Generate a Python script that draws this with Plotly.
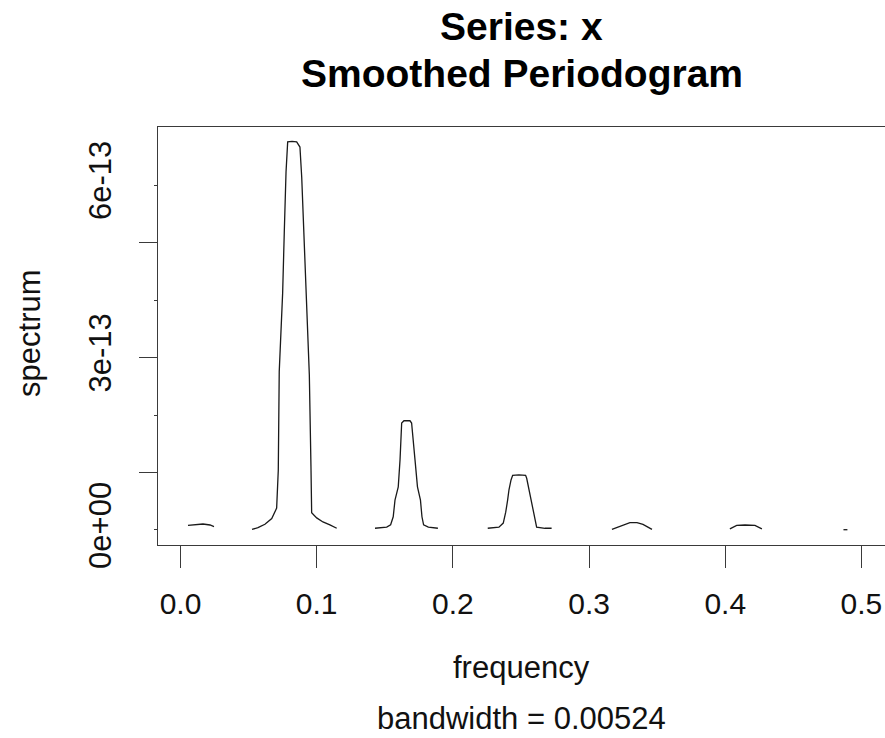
import plotly.graph_objects as go

# ---- data (spectrum in units of 1e-13) ----
frequency = [
    0.0055, 0.0106, 0.0165, 0.0217, 0.0246, None,
    0.0525, 0.0569, 0.0620, 0.0670, 0.0706, 0.0718, 0.0725, 0.0750, 0.0762, 0.0775, 0.0787,
    0.0819, 0.0853, 0.0877, 0.0890, 0.0907, 0.0927, 0.0946, 0.0958, 0.0963, 0.1000, 0.1046,
    0.1097, 0.1147, None,
    0.1428, 0.1514, 0.1543, 0.1562, 0.1575, 0.1599, 0.1612, 0.1624, 0.1641, 0.1663, 0.1685,
    0.1697, 0.1705, 0.1722, 0.1740, 0.1762, 0.1773, 0.1785, 0.1820, 0.1890, None,
    0.2256, 0.2338, 0.2370, 0.2388, 0.2402, 0.2412, 0.2427, 0.2439, 0.2485, 0.2534, 0.2542,
    0.2559, 0.2579, 0.2598, 0.2615, 0.2676, 0.2725, None,
    0.3168, 0.3212, 0.3256, 0.3300, 0.3352, 0.3396, 0.3432, 0.3462, None,
    0.4034, 0.4084, 0.4145, 0.4218, 0.4269, None,
    0.4868, 0.4897,
]
spectrum_e13 = [
    0.08, 0.096, 0.104, 0.087, 0.06, None,
    0.01, 0.04, 0.10, 0.20, 0.38, 1.04, 2.75, 4.12, 5.17, 6.23, 6.75,
    6.76, 6.75, 6.66, 6.14, 5.10, 4.03, 2.70, 1.10, 0.30, 0.21, 0.14,
    0.09, 0.03, None,
    0.03, 0.05, 0.09, 0.23, 0.52, 0.75, 1.22, 1.86, 1.90, 1.90, 1.90,
    1.86, 1.69, 1.22, 0.75, 0.52, 0.23, 0.09, 0.05, 0.03, None,
    0.03, 0.05, 0.12, 0.31, 0.52, 0.70, 0.87, 0.95, 0.96, 0.95, 0.90,
    0.70, 0.45, 0.23, 0.05, 0.03, 0.03, None,
    0.01, 0.05, 0.10, 0.127, 0.127, 0.096, 0.05, 0.01, None,
    0.02, 0.08, 0.087, 0.08, 0.02, None,
    0.005, 0.005,
]
spectrum = [None if v is None else v * 1e-13 for v in spectrum_e13]

x_tick_vals = [0.0, 0.1, 0.2, 0.3, 0.4, 0.5]
x_tick_text = ["0.0", "0.1", "0.2", "0.3", "0.4", "0.5"]
y_label_vals = [0, 2e-13, 3e-13, 4e-13, 6e-13]
y_label_text = ["0e+00", "", "3e-13", "", "6e-13"]
y_long_ticks = [1e-13, 3e-13, 5e-13]

title_line1 = "Series: x"
title_line2 = "Smoothed Periodogram"
x_title = "frequency"
x_subtitle = "bandwidth = 0.00524"
y_title = "spectrum"

FONT = "Liberation Sans, Arial, sans-serif"
AXC = "#3a3a3a"
x_range = [-0.01652, 0.5173]
y_range = [-0.261e-13, 7.009e-13]

fig = go.Figure()
fig.add_trace(go.Scatter(x=frequency, y=spectrum, mode="lines",
                         line=dict(color="#1a1a1a", width=1.3),
                         connectgaps=False, showlegend=False, hoverinfo="skip"))
fig.add_trace(go.Scatter(x=[None], y=[None], yaxis="y2", showlegend=False, hoverinfo="skip"))

fig.update_layout(
    template="none",
    width=885, height=738,
    margin=dict(l=158, r=0, t=127, b=193, autoexpand=False),
    paper_bgcolor="white", plot_bgcolor="white",
    font=dict(family=FONT, color="#111111"),
    xaxis=dict(range=x_range, tickvals=x_tick_vals, ticktext=x_tick_text,
               ticks="outside", ticklen=22, tickwidth=1, tickcolor=AXC,
               showline=True, linecolor=AXC, linewidth=1, mirror=True,
               showgrid=False, zeroline=False, automargin=False,
               tickfont=dict(size=30, family=FONT), ticklabelstandoff=10),
    yaxis=dict(range=y_range, tickvals=y_label_vals, ticktext=y_label_text,
               ticks="outside", ticklen=3, tickwidth=1, tickcolor=AXC,
               showline=True, linecolor=AXC, linewidth=1, mirror=False,
               showgrid=False, zeroline=False, tickangle=-90, automargin=False,
               tickfont=dict(size=31, family=FONT), ticklabelstandoff=31),
    yaxis2=dict(range=y_range, overlaying="y", side="left", tickvals=y_long_ticks,
                ticks="outside", ticklen=18, tickwidth=1, tickcolor=AXC,
                showticklabels=False, showline=False, showgrid=False, zeroline=False,
                automargin=False),
    annotations=[
        dict(text="<b>%s</b>" % title_line1, x=0.5, y=1.241, xref="paper", yref="paper",
             showarrow=False, font=dict(size=39, family=FONT, color="#000"),
             xanchor="center", yanchor="middle"),
        dict(text="<b>%s</b>" % title_line2, x=0.5, y=1.128, xref="paper", yref="paper",
             showarrow=False, font=dict(size=39, family=FONT, color="#000"),
             xanchor="center", yanchor="middle"),
        dict(text=x_title, x=0.5, y=-0.292, xref="paper", yref="paper",
             showarrow=False, font=dict(size=31, family=FONT),
             xanchor="center", yanchor="middle"),
        dict(text=x_subtitle, x=0.5, y=-0.414, xref="paper", yref="paper",
             showarrow=False, font=dict(size=31, family=FONT),
             xanchor="center", yanchor="middle"),
        dict(text=y_title, x=-0.176, y=0.505, xref="paper", yref="paper",
             showarrow=False, font=dict(size=31, family=FONT), textangle=-90,
             xanchor="center", yanchor="middle"),
    ],
)

fig.write_html("out.html",
               config={"displayModeBar": False},
               post_script="document.body.style.margin='0';document.body.style.overflow='hidden';")
